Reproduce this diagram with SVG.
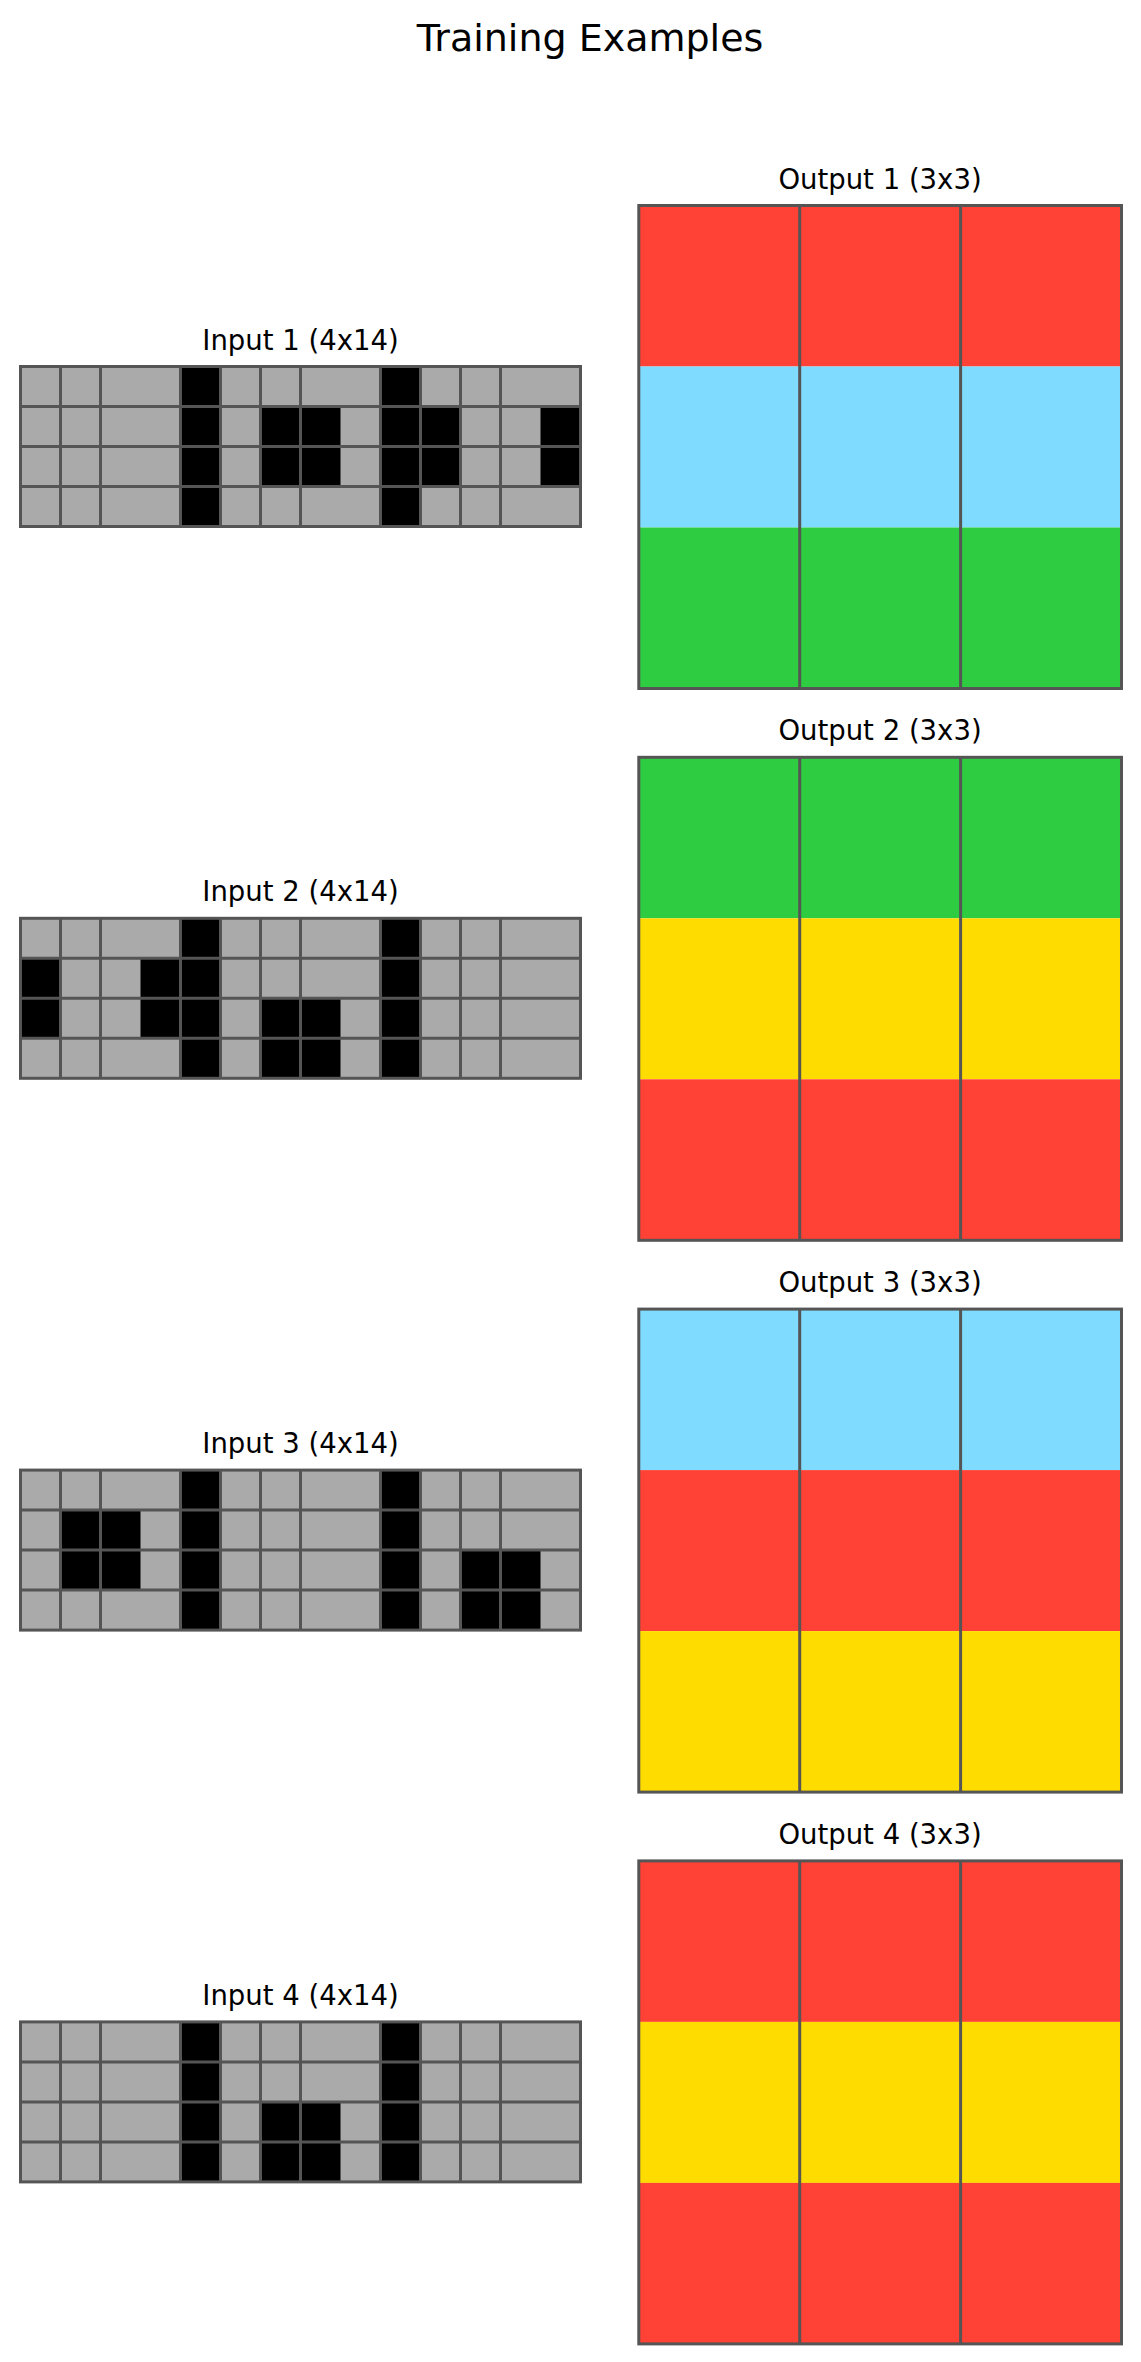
<svg xmlns="http://www.w3.org/2000/svg" width="1141" height="2362" viewBox="0 0 1141 2362">
<style>
.bg{fill:#ffffff}
.t{font-family:"DejaVu Sans",Verdana,sans-serif;fill:#000000;text-anchor:middle}
.title{font-size:38px}
.sub{font-size:27.5px}
.g{fill:#AAAAAA}
.k{fill:#000000}
.r{fill:#FF4136}
.b{fill:#7FDBFF}
.gr{fill:#2ECC40}
.y{fill:#FFDC00}
.ln{fill:none;stroke:#555555;stroke-width:3}
</style>
<rect class="bg" x="0" y="0" width="1141" height="2362"/>
<text class="t title" x="590" y="51">Training Examples</text>

<g id="input1">
<text class="t sub" x="300.5" y="349.5">Input 1 (4x14)</text>
<g transform="translate(20.5,366.5)">
<rect class="g" x="0" y="0" width="560" height="160"/>
<rect class="k" x="160" y="0" width="40" height="160"/>
<rect class="k" x="360" y="0" width="40" height="160"/>
<rect class="k" x="240" y="40" width="80" height="80"/>
<rect class="k" x="400" y="40" width="40" height="80"/>
<rect class="k" x="520" y="40" width="40" height="80"/>
<path class="ln" d="M40 0V160M80 0V160M160 0V160M200 0V160M240 0V160M280 0V160M360 0V160M400 0V160M440 0V160M480 0V160M0 40H560M0 80H560M0 120H560"/>
<rect class="ln" x="0" y="0" width="560" height="160"/>
</g>
</g>

<g id="output1">
<text class="t sub" x="880" y="188.5">Output 1 (3x3)</text>
<g transform="translate(638.8,205.5)">
<rect class="r" x="0" y="0" width="482.7" height="161"/>
<rect class="b" x="0" y="161" width="482.7" height="161"/>
<rect class="gr" x="0" y="322" width="482.7" height="161"/>
<path class="ln" d="M160.9 0V483M321.8 0V483"/>
<rect class="ln" x="0" y="0" width="482.7" height="483"/>
</g>
</g>

<g id="input2">
<text class="t sub" x="300.5" y="901.3">Input 2 (4x14)</text>
<g transform="translate(20.5,918.3)">
<rect class="g" x="0" y="0" width="560" height="160"/>
<rect class="k" x="160" y="0" width="40" height="160"/>
<rect class="k" x="360" y="0" width="40" height="160"/>
<rect class="k" x="0" y="40" width="40" height="80"/>
<rect class="k" x="120" y="40" width="40" height="80"/>
<rect class="k" x="240" y="80" width="80" height="80"/>
<path class="ln" d="M40 0V160M80 0V160M160 0V160M200 0V160M240 0V160M280 0V160M360 0V160M400 0V160M440 0V160M480 0V160M0 40H560M0 80H560M0 120H560"/>
<rect class="ln" x="0" y="0" width="560" height="160"/>
</g>
</g>

<g id="output2">
<text class="t sub" x="880" y="740.3">Output 2 (3x3)</text>
<g transform="translate(638.8,757.3)">
<rect class="gr" x="0" y="0" width="482.7" height="161"/>
<rect class="y" x="0" y="161" width="482.7" height="161"/>
<rect class="r" x="0" y="322" width="482.7" height="161"/>
<path class="ln" d="M160.9 0V483M321.8 0V483"/>
<rect class="ln" x="0" y="0" width="482.7" height="483"/>
</g>
</g>

<g id="input3">
<text class="t sub" x="300.5" y="1453.1">Input 3 (4x14)</text>
<g transform="translate(20.5,1470.1)">
<rect class="g" x="0" y="0" width="560" height="160"/>
<rect class="k" x="160" y="0" width="40" height="160"/>
<rect class="k" x="360" y="0" width="40" height="160"/>
<rect class="k" x="40" y="40" width="80" height="80"/>
<rect class="k" x="440" y="80" width="80" height="80"/>
<path class="ln" d="M40 0V160M80 0V160M160 0V160M200 0V160M240 0V160M280 0V160M360 0V160M400 0V160M440 0V160M480 0V160M0 40H560M0 80H560M0 120H560"/>
<rect class="ln" x="0" y="0" width="560" height="160"/>
</g>
</g>

<g id="output3">
<text class="t sub" x="880" y="1292.1">Output 3 (3x3)</text>
<g transform="translate(638.8,1309.1)">
<rect class="b" x="0" y="0" width="482.7" height="161"/>
<rect class="r" x="0" y="161" width="482.7" height="161"/>
<rect class="y" x="0" y="322" width="482.7" height="161"/>
<path class="ln" d="M160.9 0V483M321.8 0V483"/>
<rect class="ln" x="0" y="0" width="482.7" height="483"/>
</g>
</g>

<g id="input4">
<text class="t sub" x="300.5" y="2004.9">Input 4 (4x14)</text>
<g transform="translate(20.5,2021.9)">
<rect class="g" x="0" y="0" width="560" height="160"/>
<rect class="k" x="160" y="0" width="40" height="160"/>
<rect class="k" x="360" y="0" width="40" height="160"/>
<rect class="k" x="240" y="80" width="80" height="80"/>
<path class="ln" d="M40 0V160M80 0V160M160 0V160M200 0V160M240 0V160M280 0V160M360 0V160M400 0V160M440 0V160M480 0V160M0 40H560M0 80H560M0 120H560"/>
<rect class="ln" x="0" y="0" width="560" height="160"/>
</g>
</g>

<g id="output4">
<text class="t sub" x="880" y="1843.9">Output 4 (3x3)</text>
<g transform="translate(638.8,1860.9)">
<rect class="r" x="0" y="0" width="482.7" height="161"/>
<rect class="y" x="0" y="161" width="482.7" height="161"/>
<rect class="r" x="0" y="322" width="482.7" height="161"/>
<path class="ln" d="M160.9 0V483M321.8 0V483"/>
<rect class="ln" x="0" y="0" width="482.7" height="483"/>
</g>
</g>

<g id="connectors"></g>
</svg>
